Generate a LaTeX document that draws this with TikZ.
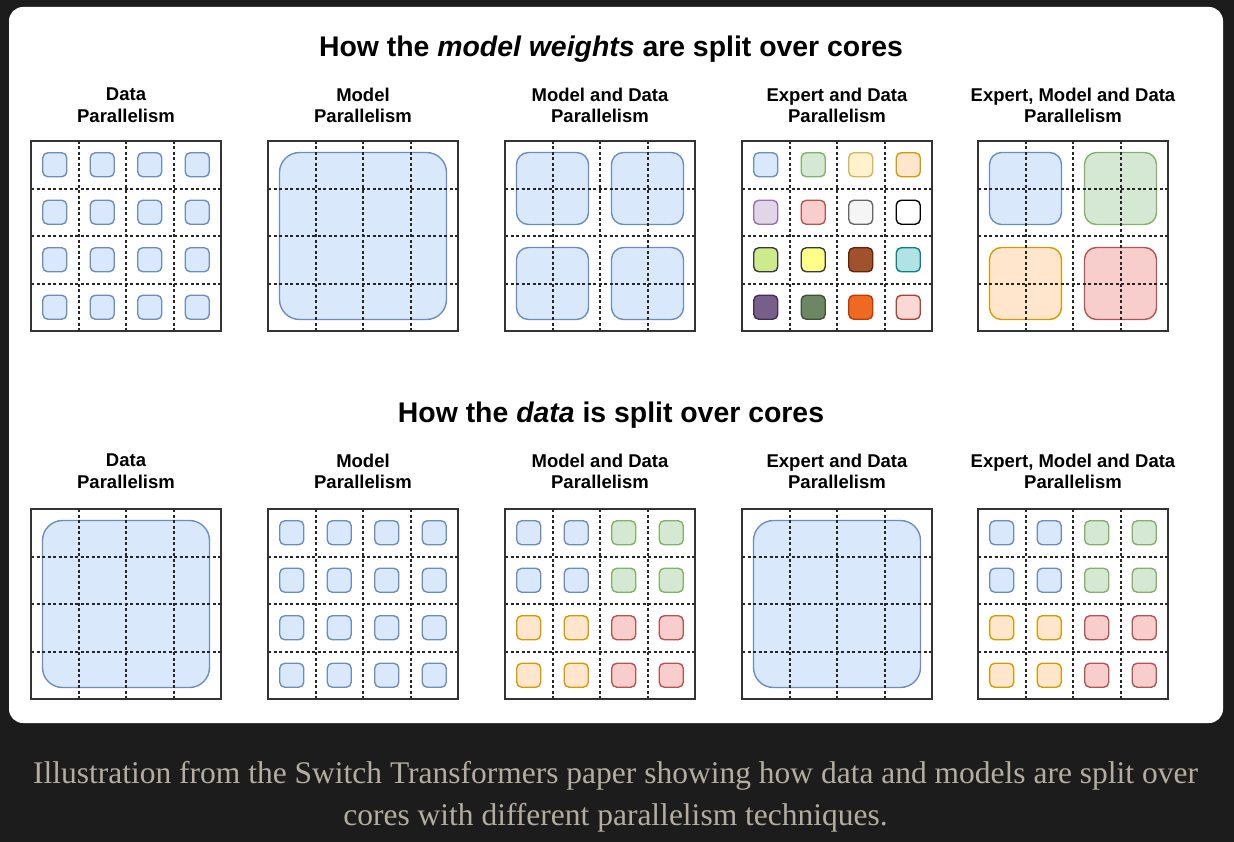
\documentclass[tikz,border=0pt]{standalone}
\usepackage{fontspec}
\setmainfont{Liberation Serif}
\newfontfamily\hv{Liberation Sans}
\definecolor{bgdark}{HTML}{1C1C1C}
\definecolor{capcol}{HTML}{B4AD9F}
\definecolor{blueF}{HTML}{DAE8FC}\definecolor{blueD}{HTML}{6C8EBF}
\definecolor{greenF}{HTML}{D5E8D4}\definecolor{greenD}{HTML}{82B366}
\definecolor{yellowF}{HTML}{FFF2CC}\definecolor{yellowD}{HTML}{D6B656}
\definecolor{orangeF}{HTML}{FFE6CC}\definecolor{orangeD}{HTML}{D79B00}
\definecolor{purpleF}{HTML}{E1D5E7}\definecolor{purpleD}{HTML}{9673A6}
\definecolor{redF}{HTML}{F8CECC}\definecolor{redD}{HTML}{B85450}
\definecolor{grayF}{HTML}{F5F5F5}\definecolor{grayD}{HTML}{666666}
\definecolor{limeF}{HTML}{CDEB8B}\definecolor{limeD}{HTML}{36393D}
\definecolor{ylwF}{HTML}{FFFF88}\definecolor{ylwD}{HTML}{36393D}
\definecolor{brownF}{HTML}{A0522D}\definecolor{brownD}{HTML}{6D1F00}
\definecolor{cyanF}{HTML}{B0E3E6}\definecolor{cyanD}{HTML}{0E8088}
\definecolor{dpurpleF}{HTML}{76608A}\definecolor{dpurpleD}{HTML}{432D57}
\definecolor{dgreenF}{HTML}{6D8764}\definecolor{dgreenD}{HTML}{3A5431}
\definecolor{dorangeF}{HTML}{EE6A22}\definecolor{dorangeD}{HTML}{C73500}
\definecolor{pinkF}{HTML}{FAD9D5}\definecolor{pinkD}{HTML}{AE4132}
\tikzset{
  gdash/.style={draw=black!85, line width=1.1pt, dash pattern=on 3pt off 2.5pt},
  gborder/.style={draw=black!80, line width=1.6pt},
  sqr/.style={line width=1.4pt, rounded corners=5pt},
  qrect/.style={line width=1.4pt, rounded corners=12pt},
  brect/.style={line width=1.4pt, rounded corners=20pt},
  cblue/.style={fill=blueF, draw=blueD},
  cgreen/.style={fill=greenF, draw=greenD},
  cyellow/.style={fill=yellowF, draw=yellowD},
  corange/.style={fill=orangeF, draw=orangeD},
  cpurple/.style={fill=purpleF, draw=purpleD},
  cred/.style={fill=redF, draw=redD},
  cgray/.style={fill=grayF, draw=grayD},
  cwhite/.style={fill=white, draw=black},
  clime/.style={fill=limeF, draw=limeD},
  cylw/.style={fill=ylwF, draw=ylwD},
  cbrown/.style={fill=brownF, draw=brownD},
  ccyan/.style={fill=cyanF, draw=cyanD},
  cdpurple/.style={fill=dpurpleF, draw=dpurpleD},
  cdgreen/.style={fill=dgreenF, draw=dgreenD},
  cdorange/.style={fill=dorangeF, draw=dorangeD},
  cpink/.style={fill=pinkF, draw=pinkD},
  titletext/.style={font=\hv\bfseries\fontsize{28.4}{34}\selectfont, text=black, inner sep=0pt, anchor=base},
  subtext/.style={font=\hv\bfseries\fontsize{18.5}{21.5}\selectfont, text=black, inner sep=0pt, anchor=north, align=center},
  captext/.style={font=\fontsize{31.5}{42}\selectfont, text=capcol, inner sep=0pt, anchor=base},
}
\newcommand\gridlines[2]{%
  \foreach \k in {48,95,143} {
    \draw[gdash] ({#1+\k},#2) -- ({#1+\k},{#2+190});
    \draw[gdash] (#1,{#2+\k}) -- ({#1+190},{#2+\k});
  }
  \draw[gborder] (#1,#2) rectangle ({#1+190},{#2+190});
}
\newcommand\cellsq[5]{\draw[sqr,#5] ({#1+(#3+0.5)*47.5-12},{#2+(#4+0.5)*47.5-12}) rectangle ++(24,24);}
\newcommand\quadr[5]{\draw[qrect,#5] ({#1+#3*95+11.5},{#2+#4*95+11.5}) rectangle ++(72,72);}
\newcommand\wholerect[2]{\draw[brect,cblue] ({#1+11.5},{#2+11.5}) rectangle ++(167,167);}
\newcommand\allcells[3]{\foreach \i in {0,...,3}{\foreach \j in {0,...,3}{\cellsq{#1}{#2}{\i}{\j}{#3}}}}
\newcommand\mdcells[2]{%
  \foreach \i in {0,1}{\foreach \j in {0,1}{\cellsq{#1}{#2}{\i}{\j}{cblue}}}
  \foreach \i in {2,3}{\foreach \j in {0,1}{\cellsq{#1}{#2}{\i}{\j}{cgreen}}}
  \foreach \i in {0,1}{\foreach \j in {2,3}{\cellsq{#1}{#2}{\i}{\j}{corange}}}
  \foreach \i in {2,3}{\foreach \j in {2,3}{\cellsq{#1}{#2}{\i}{\j}{cred}}}
}
\begin{document}
\begin{tikzpicture}[x=1pt,y=-1pt]
\fill[bgdark] (0,0) rectangle (1234,842);
\useasboundingbox (0,0) rectangle (1234,842);
\fill[white, rounded corners=14pt] (9,7) rectangle (1223,723);

% titles
\node[titletext] (title1) at (611,56.7) {How the \textit{model weights} are split over cores};
\node[titletext] (title2) at (611,422.7) {How the \textit{data} is split over cores};

% top subtitles
\node[subtext] (s11) at (126,87.8) {Data\\Parallelism};
\node[subtext] (s12) at (363,87.8) {Model\\Parallelism};
\node[subtext] (s13) at (600,87.8) {Model and Data\\Parallelism};
\node[subtext] (s14) at (837,87.8) {Expert and Data\\Parallelism};
\node[subtext] (s15) at (1073,87.8) {Expert, Model and Data\\Parallelism};
% bottom subtitles
\node[subtext] (s21) at (126,453.8) {Data\\Parallelism};
\node[subtext] (s22) at (363,453.8) {Model\\Parallelism};
\node[subtext] (s23) at (600,453.8) {Model and Data\\Parallelism};
\node[subtext] (s24) at (837,453.8) {Expert and Data\\Parallelism};
\node[subtext] (s25) at (1073,453.8) {Expert, Model and Data\\Parallelism};

% ---- top row ----
\allcells{31}{141}{cblue}
\gridlines{31}{141}

\wholerect{268}{141}
\gridlines{268}{141}

\quadr{505}{141}{0}{0}{cblue}\quadr{505}{141}{1}{0}{cblue}
\quadr{505}{141}{0}{1}{cblue}\quadr{505}{141}{1}{1}{cblue}
\gridlines{505}{141}

\cellsq{742}{141}{0}{0}{cblue}\cellsq{742}{141}{1}{0}{cgreen}\cellsq{742}{141}{2}{0}{cyellow}\cellsq{742}{141}{3}{0}{corange}
\cellsq{742}{141}{0}{1}{cpurple}\cellsq{742}{141}{1}{1}{cred}\cellsq{742}{141}{2}{1}{cgray}\cellsq{742}{141}{3}{1}{cwhite}
\cellsq{742}{141}{0}{2}{clime}\cellsq{742}{141}{1}{2}{cylw}\cellsq{742}{141}{2}{2}{cbrown}\cellsq{742}{141}{3}{2}{ccyan}
\cellsq{742}{141}{0}{3}{cdpurple}\cellsq{742}{141}{1}{3}{cdgreen}\cellsq{742}{141}{2}{3}{cdorange}\cellsq{742}{141}{3}{3}{cpink}
\gridlines{742}{141}

\quadr{978}{141}{0}{0}{cblue}\quadr{978}{141}{1}{0}{cgreen}
\quadr{978}{141}{0}{1}{corange}\quadr{978}{141}{1}{1}{cred}
\gridlines{978}{141}

% ---- bottom row ----
\wholerect{31}{509}
\gridlines{31}{509}

\allcells{268}{509}{cblue}
\gridlines{268}{509}

\mdcells{505}{509}
\gridlines{505}{509}

\wholerect{742}{509}
\gridlines{742}{509}

\mdcells{978}{509}
\gridlines{978}{509}

% caption
\node[captext] (cap1) at (615.5,783) {Illustration from the Switch Transformers paper showing how data and models are split over};
\node[captext] (cap2) at (615.5,825) {cores with different parallelism techniques.};
\end{tikzpicture}
\end{document}
